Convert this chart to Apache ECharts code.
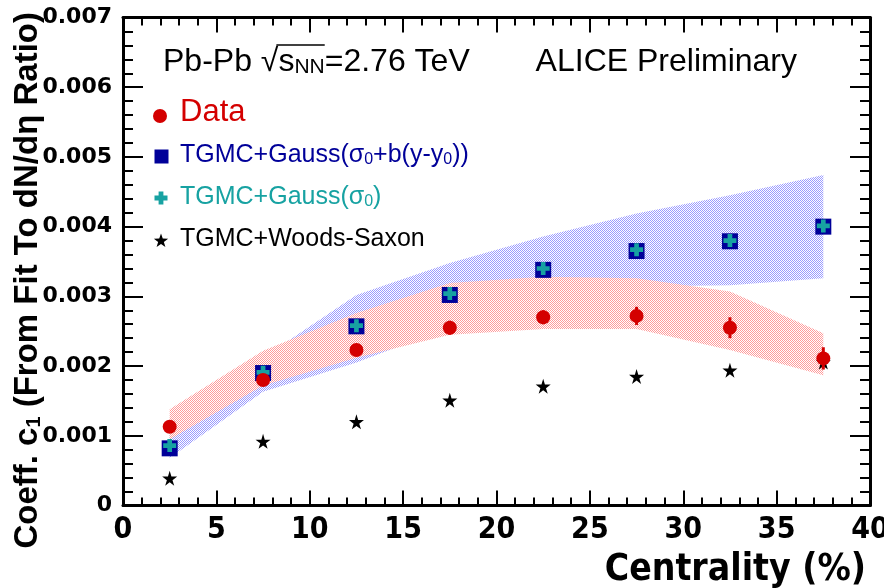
<!DOCTYPE html>
<html><head><meta charset="utf-8">
<script src="https://cdn.jsdelivr.net/npm/echarts@6/dist/echarts.min.js"></script>
<style>html,body{margin:0;padding:0;background:#fff}#c{width:884px;height:588px}</style>
</head><body><div id="c"></div>
<script>
// ---- data ----
const centrality = [2.5, 7.5, 12.5, 17.5, 22.5, 27.5, 32.5, 37.5];
const dataC1   = [0.00113, 0.00180, 0.00223, 0.00255, 0.00270, 0.00272, 0.00255, 0.00211];
const dataErr  = [0.00005, 0.00006, 0.00007, 0.00010, 0.00010, 0.00013, 0.00015, 0.00016];
const gaussB   = [0.00082, 0.00190, 0.00257, 0.00302, 0.00338, 0.00365, 0.00379, 0.00400];
const gauss0   = [0.00086, 0.00191, 0.00258, 0.00304, 0.00340, 0.00367, 0.00380, 0.00401];
const woods    = [0.00039, 0.00092, 0.00120, 0.00151, 0.00171, 0.00185, 0.00194, 0.00206];
const blueUpper = [0.00101, 0.00212, 0.00302, 0.00348, 0.00386, 0.00419, 0.00445, 0.00474];
const blueLower = [0.00068, 0.00163, 0.00205, 0.00256, 0.00290, 0.00314, 0.00316, 0.00326];
const redUpper  = [0.00138, 0.00222, 0.00276, 0.00319, 0.00328, 0.00326, 0.00307, 0.00247];
const redLower  = [0.00095, 0.00172, 0.00212, 0.00245, 0.00253, 0.00253, 0.00223, 0.00187];
const xTicks = {min: 0, max: 40, interval: 5};
const yTicks = {min: 0, max: 0.007, interval: 0.001};

// ---- styling ----
const RED = '#d40000', NAVY = '#000099', TEAL = '#17a2a2';
const STAR = 'path://M50,0 L61,35 L98,35 L68,57 L79,91 L50,70 L21,91 L32,57 L2,35 L39,35 Z';
const PLUS = 'path://M32,0 H68 V32 H100 V68 H68 V100 H32 V68 H0 V32 H32 Z';

function makePattern(col){
  const c = document.createElement('canvas'); c.width = 2; c.height = 2;
  const g = c.getContext('2d'); g.fillStyle = col;
  g.fillRect(0,0,1,1); g.fillRect(1,1,1,1);
  return c;
}
const bluePat = makePattern('rgb(155,155,255)');
const redPat = makePattern('rgb(255,155,155)');

function bandRender(lower, upper, pat){
  return function(params, api){
    if (params.dataIndex !== 0) return null;
    const pts = [];
    for (let i = 0; i < centrality.length; i++) pts.push(api.coord([centrality[i], upper[i]]));
    for (let i = centrality.length - 1; i >= 0; i--) pts.push(api.coord([centrality[i], lower[i]]));
    return {type: 'polygon', shape: {points: pts}, style: {fill: {image: pat, repeat: 'repeat'}}};
  };
}

const chart = echarts.init(document.getElementById('c'));

const FONT = "'Liberation Sans', Arial, sans-serif";
function measure(txt, font){
  const c = document.createElement('canvas').getContext('2d');
  c.font = font; return c.measureText(txt).width;
}
const hdrSize = 32;
const hdrX = 163, hdrY = 62;
const subSize = 21;
const sqrtStart = hdrX + measure('Pb-Pb ', hdrSize + 'px ' + FONT);
const sqrtW = measure('\u221A', hdrSize + 'px ' + FONT);
const sW = measure('s', hdrSize + 'px ' + FONT) + measure('NN', subSize + 'px ' + FONT);

function xAxisCfg(pos, labels){
  return {
    type: 'value', position: pos, min: xTicks.min, max: xTicks.max, interval: xTicks.interval,
    axisLine: {show: true, onZero: false, lineStyle: {color: '#000', width: 3}},
    axisTick: {show: true, inside: true, length: 15, lineStyle: {color: '#000', width: 2}},
    minorTick: {show: true, splitNumber: 5, length: 8, lineStyle: {color: '#000', width: 2}},
    splitLine: {show: false}, minorSplitLine: {show: false},
    axisLabel: labels ? {show: true, margin: 10, color: '#000', fontWeight: 'bold', fontSize: 30,
      fontFamily: "'Liberation Sans Narrow', 'DejaVu Sans Condensed', sans-serif"} : {show: false}
  };
}
function yAxisCfg(pos, labels){
  return {
    type: 'value', position: pos, min: yTicks.min, max: yTicks.max, interval: yTicks.interval,
    axisLine: {show: true, onZero: false, lineStyle: {color: '#000', width: 3}},
    axisTick: {show: true, inside: true, length: 20, lineStyle: {color: '#000', width: 2}},
    minorTick: {show: true, splitNumber: 5, length: 10, lineStyle: {color: '#000', width: 2}},
    splitLine: {show: false}, minorSplitLine: {show: false},
    axisLabel: labels ? {show: true, margin: 11, color: '#000', fontWeight: 'bold', fontSize: 22,
      fontFamily: "'DejaVu Sans', sans-serif",
      formatter: v => (v === 0 ? '0' : v.toFixed(3))} : {show: false}
  };
}

const subRich = (size, col) => ({fontSize: size, fill: col, verticalAlign: 'bottom', lineHeight: 14, fontFamily: FONT});

function plusPts(cx, cy, h, a){
  return [[cx-a,cy-h],[cx+a,cy-h],[cx+a,cy-a],[cx+h,cy-a],[cx+h,cy+a],[cx+a,cy+a],[cx+a,cy+h],
          [cx-a,cy+h],[cx-a,cy+a],[cx-h,cy+a],[cx-h,cy-a],[cx-a,cy-a]];
}
function starPts(cx, cy, R){
  const r = R * 0.4, p = [];
  for (let k = 0; k < 10; k++){
    const ang = -Math.PI / 2 + k * Math.PI / 5, rr = k % 2 ? r : R;
    p.push([cx + rr * Math.cos(ang), cy + rr * Math.sin(ang)]);
  }
  return p;
}

chart.setOption({
  animation: false,
  backgroundColor: '#fff',
  grid: {left: 123, right: 14, top: 17.5, bottom: 82.5, containLabel: false, outerBoundsMode: 'none'},
  xAxis: [xAxisCfg('bottom', true), xAxisCfg('top', false)],
  yAxis: [yAxisCfg('left', true), yAxisCfg('right', false)],
  series: [
    {type: 'custom', name: 'band blue', z: 1, renderItem: bandRender(blueLower, blueUpper, bluePat),
     data: centrality.map((x, i) => [x, blueUpper[i], blueLower[i]]), encode: {x: 0, y: [1, 2]}, silent: true},
    {type: 'custom', name: 'band red', z: 2, renderItem: bandRender(redLower, redUpper, redPat),
     data: centrality.map((x, i) => [x, redUpper[i], redLower[i]]), encode: {x: 0, y: [1, 2]}, silent: true},
    {type: 'scatter', name: 'TGMC+Woods-Saxon', z: 3, symbol: STAR, symbolSize: 15,
     itemStyle: {color: '#000', opacity: 1}, data: centrality.map((x, i) => [x, woods[i]])},
    {type: 'scatter', name: 'TGMC+Gauss(σ0+b(y-y0))', z: 4, symbol: 'rect', symbolSize: 16,
     itemStyle: {color: NAVY, opacity: 1}, data: centrality.map((x, i) => [x, gaussB[i]])},
    {type: 'scatter', name: 'TGMC+Gauss(σ0)', z: 5, symbol: PLUS, symbolSize: 13,
     itemStyle: {color: TEAL, opacity: 1}, data: centrality.map((x, i) => [x, gauss0[i]])},
    {type: 'custom', name: 'Data err', z: 6,
     renderItem: function(params, api){
       const lo = api.coord([api.value(0), api.value(1)]);
       const hi = api.coord([api.value(0), api.value(2)]);
       return {type: 'line', shape: {x1: lo[0], y1: lo[1], x2: hi[0], y2: hi[1]},
               style: {stroke: RED, lineWidth: 3}};
     },
     data: centrality.map((x, i) => [x, dataC1[i] - dataErr[i], dataC1[i] + dataErr[i]]),
     encode: {x: 0, y: [1, 2]}},
    {type: 'scatter', name: 'Data', z: 7, symbol: 'circle', symbolSize: 14,
     itemStyle: {color: RED, opacity: 1}, data: centrality.map((x, i) => [x, dataC1[i]])}
  ],
  graphic: [
    // axis titles
    {type: 'text', x: 28, y: 12, rotation: Math.PI / 2, z: 10,
     style: {text: 'Coeff. c{sub|1} (From Fit To dN/d\u03B7 Ratio)', fill: '#000',
       font: 'bold 33px ' + FONT, textAlign: 'right', textVerticalAlign: 'middle',
       rich: {sub: {fontSize: 20, fontWeight: 'bold', fill: '#000', verticalAlign: 'bottom', lineHeight: 14, fontFamily: FONT}}}},
    {type: 'text', x: 866, y: 570, z: 10,
     style: {text: 'Centrality (%)', fill: '#000',
       font: "bold 37px 'Liberation Sans Narrow', 'DejaVu Sans Condensed', sans-serif",
       textAlign: 'right', textVerticalAlign: 'middle'}},
    // header
    {type: 'text', x: hdrX, y: hdrY, z: 10,
     style: {text: 'Pb-Pb \u221As{sub|NN}=2.76 TeV', fill: '#000', font: hdrSize + 'px ' + FONT,
       textAlign: 'left', textVerticalAlign: 'middle', rich: {sub: subRich(subSize, '#000')}}},
    {type: 'line', z: 10, shape: {x1: sqrtStart + sqrtW - 2, y1: hdrY - 17, x2: sqrtStart + sqrtW + sW, y2: hdrY - 17},
     style: {stroke: '#000', lineWidth: 1.5}},
    {type: 'text', x: 797, y: hdrY, z: 10,
     style: {text: 'ALICE Preliminary', fill: '#000', font: hdrSize + 'px ' + FONT,
       textAlign: 'right', textVerticalAlign: 'middle'}},
    // legend
    {type: 'circle', z: 10, shape: {cx: 160, cy: 116, r: 7}, style: {fill: RED}},
    {type: 'text', x: 180, y: 112, z: 10,
     style: {text: 'Data', fill: RED, font: '31px ' + FONT, textAlign: 'left', textVerticalAlign: 'middle'}},
    {type: 'rect', z: 10, shape: {x: 154.5, y: 149.5, width: 14, height: 14}, style: {fill: NAVY}},
    {type: 'text', x: 180, y: 155, z: 10,
     style: {text: 'TGMC+Gauss(\u03C3{sub|0}+b(y-y{sub|0}))', fill: NAVY, font: '25px ' + FONT,
       textAlign: 'left', textVerticalAlign: 'middle', rich: {sub: subRich(16, NAVY)}}},
    {type: 'polygon', z: 10, shape: {points: plusPts(161, 198, 6.5, 2.4)}, style: {fill: TEAL}},
    {type: 'text', x: 180, y: 197, z: 10,
     style: {text: 'TGMC+Gauss(\u03C3{sub|0})', fill: TEAL, font: '25px ' + FONT,
       textAlign: 'left', textVerticalAlign: 'middle', rich: {sub: subRich(16, TEAL)}}},
    {type: 'polygon', z: 10, shape: {points: starPts(161, 241, 7.5)}, style: {fill: '#000'}},
    {type: 'text', x: 180, y: 239, z: 10,
     style: {text: 'TGMC+Woods-Saxon', fill: '#000', font: '25px ' + FONT,
       textAlign: 'left', textVerticalAlign: 'middle'}}
  ]
});
</script></body></html>
